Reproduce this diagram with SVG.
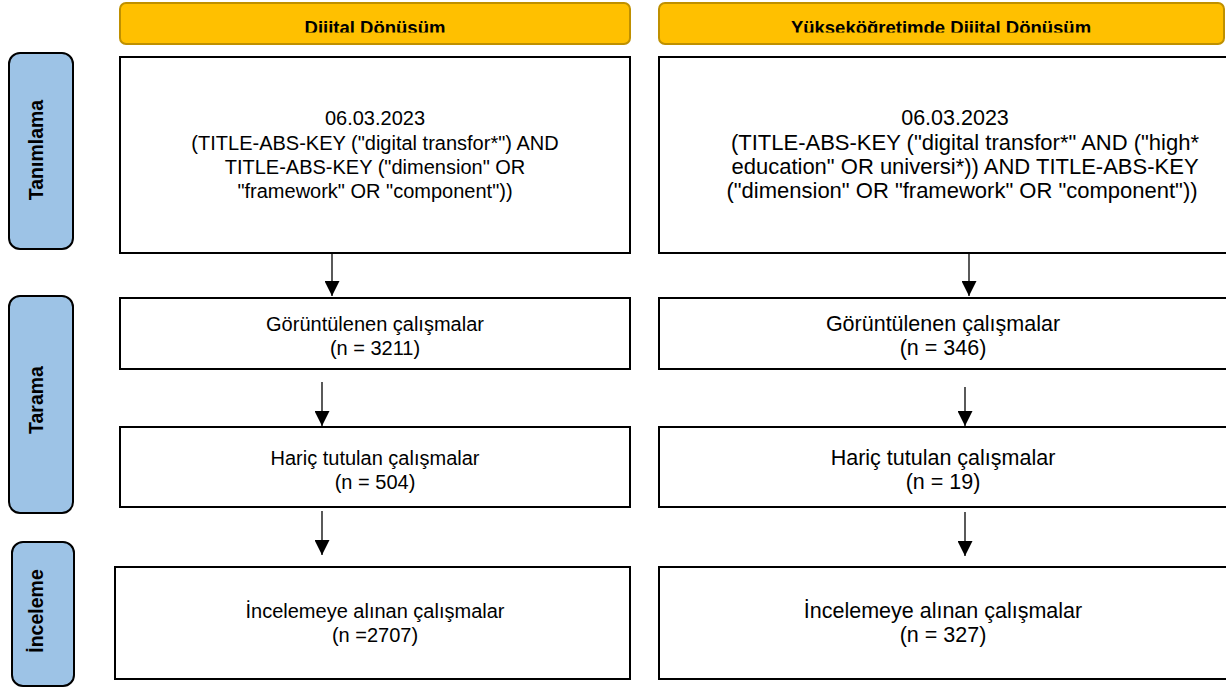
<svg xmlns="http://www.w3.org/2000/svg" width="1226" height="688" viewBox="0 0 1226 688">
  <style>
    .hdr { fill: #FFC000; stroke: #BF9000; stroke-width: 2; }
    .hdr-t { font-family: "Liberation Sans", Arial, sans-serif; font-size: 18.5px; font-weight: bold; fill: #000; text-anchor: middle; }
    .side { fill: #9DC3E6; stroke: #000; stroke-width: 2; }
    .side-t { font-family: "Liberation Sans", Arial, sans-serif; font-size: 19.5px; font-weight: bold; fill: #000; text-anchor: middle; }
    .box { fill: #fff; stroke: #000; stroke-width: 2; }
    .t { font-family: "Liberation Sans", Arial, sans-serif; font-size: 20px; fill: #000; text-anchor: middle; }
    .tr { font-family: "Liberation Sans", Arial, sans-serif; font-size: 21.5px; fill: #000; text-anchor: middle; }
    .arrow { stroke: #000; stroke-width: 1.3; fill: none; }
  </style>
  <defs>
    <marker id="head" viewBox="0 0 10 10" refX="10" refY="5" markerWidth="15" markerHeight="15" markerUnits="userSpaceOnUse" orient="auto">
      <path d="M0,0 L10,5 L0,10 Z" fill="#000"/>
    </marker>
    <!-- header labels are cut off at the lower edge of their text band -->
    <clipPath id="hdrClip">
      <rect x="0" y="0" width="1226" height="32.5"/>
    </clipPath>
  </defs>

  <!-- column headers -->
  <g id="header-left">
    <rect class="hdr" x="120" y="3" width="510" height="41" rx="6"/>
    <text class="hdr-t" x="375" y="34" clip-path="url(#hdrClip)">Dijital Dönüşüm</text>
  </g>
  <g id="header-right">
    <rect class="hdr" x="659" y="3" width="565" height="41" rx="6"/>
    <text class="hdr-t" x="941" y="34" clip-path="url(#hdrClip)">Yükseköğretimde Dijital Dönüşüm</text>
  </g>

  <!-- phase labels -->
  <g id="phase-identification">
    <rect class="side" x="9" y="53" width="64" height="196" rx="11"/>
    <text class="side-t" transform="translate(43,150) rotate(-90)">Tanımlama</text>
  </g>
  <g id="phase-screening">
    <rect class="side" x="9" y="296" width="64" height="217" rx="11"/>
    <text class="side-t" transform="translate(43,400) rotate(-90)">Tarama</text>
  </g>
  <g id="phase-review">
    <rect class="side" x="12" y="542" width="62" height="144" rx="11"/>
    <text class="side-t" transform="translate(43,611) rotate(-90)">İnceleme</text>
  </g>

  <!-- left column -->
  <g id="left-search">
    <rect class="box" x="120" y="57" width="510" height="196"/>
    <text class="t" x="375" y="125">06.03.2023</text>
    <text class="t" x="375" y="149.5">(TITLE-ABS-KEY ("digital transfor*") AND</text>
    <text class="t" x="375" y="174">TITLE-ABS-KEY ("dimension" OR</text>
    <text class="t" x="375" y="198">"framework" OR "component"))</text>
  </g>
  <g id="left-screened">
    <rect class="box" x="120" y="298" width="510" height="71"/>
    <text class="t" x="375" y="331">Görüntülenen çalışmalar</text>
    <text class="t" x="375" y="355">(n = 3211)</text>
  </g>
  <g id="left-excluded">
    <rect class="box" x="120" y="427" width="510" height="80"/>
    <text class="t" x="375" y="465">Hariç tutulan çalışmalar</text>
    <text class="t" x="375" y="489">(n = 504)</text>
  </g>
  <g id="left-included">
    <rect class="box" x="115" y="567" width="515" height="112"/>
    <text class="t" x="375" y="618">İncelemeye alınan çalışmalar</text>
    <text class="t" x="375" y="642">(n =2707)</text>
  </g>

  <!-- right column -->
  <g id="right-search">
    <rect class="box" x="659" y="57" width="570" height="196"/>
    <text class="tr" x="955" y="125">06.03.2023</text>
    <text class="tr" x="965" y="149.5" style="font-size:22px">(TITLE-ABS-KEY ("digital transfor*" AND ("high*</text>
    <text class="tr" x="965" y="174" style="font-size:22px">education" OR universi*)) AND TITLE-ABS-KEY</text>
    <text class="tr" x="962" y="198" style="font-size:22px">("dimension" OR "framework" OR "component"))</text>
  </g>
  <g id="right-screened">
    <rect class="box" x="659" y="298" width="570" height="71"/>
    <text class="tr" x="943" y="331">Görüntülenen çalışmalar</text>
    <text class="tr" x="943" y="355">(n = 346)</text>
  </g>
  <g id="right-excluded">
    <rect class="box" x="659" y="427" width="570" height="80"/>
    <text class="tr" x="943" y="465">Hariç tutulan çalışmalar</text>
    <text class="tr" x="943" y="489">(n = 19)</text>
  </g>
  <g id="right-included">
    <rect class="box" x="659" y="567" width="570" height="112"/>
    <text class="tr" x="943" y="618">İncelemeye alınan çalışmalar</text>
    <text class="tr" x="943" y="642">(n = 327)</text>
  </g>

  <!-- connectors -->
  <g id="connectors">
    <line class="arrow" x1="332" y1="253" x2="332" y2="296" marker-end="url(#head)"/>
    <line class="arrow" x1="322" y1="382" x2="322" y2="426" marker-end="url(#head)"/>
    <line class="arrow" x1="322" y1="511" x2="322" y2="555" marker-end="url(#head)"/>
    <line class="arrow" x1="969" y1="253" x2="969" y2="296" marker-end="url(#head)"/>
    <line class="arrow" x1="965" y1="387" x2="965" y2="426" marker-end="url(#head)"/>
    <line class="arrow" x1="965" y1="512" x2="965" y2="556" marker-end="url(#head)"/>
  </g>
</svg>
